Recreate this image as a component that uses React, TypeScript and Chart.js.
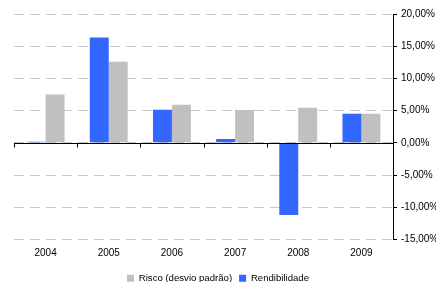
import React, { useEffect, useRef } from "react";
import { Chart, registerables } from "chart.js";

Chart.register(...registerables);

const categories = ["2004", "2005", "2006", "2007", "2008", "2009"];
const rendibilidade = [0.15, 16.35, 5.15, 0.6, -11.2, 4.5];
const risco = [7.5, 12.6, 5.9, 5.1, 5.45, 4.5];
const yTicks = [-15, -10, -5, 0, 5, 10, 15, 20];

const FONT = "'Liberation Sans', Arial, sans-serif";
const fmt = (v: number) => v.toFixed(2).replace(".", ",") + "%";

const zeroAxisPlugin = {
  id: "zeroAxis",
  afterLayout(chart: any) {
    const lg = chart.legend;
    if (lg) {
      lg.left -= 7;
      lg.right -= 7;
      lg.top -= 1;
      lg.bottom -= 1;
    }
  },
  afterDatasetsDraw(chart: any) {
    const { ctx, chartArea, scales } = chart;
    const x = scales.x;
    const y = scales.y;
    const y0 = Math.round(y.getPixelForValue(0)) + 0.5;
    ctx.save();
    ctx.strokeStyle = "#000";
    ctx.lineWidth = 1;
    ctx.beginPath();
    ctx.moveTo(chartArea.left, y0);
    ctx.lineTo(chartArea.right, y0);
    const n = categories.length;
    for (let i = 0; i <= n; i++) {
      const xp = Math.round(x.left + (i * x.width) / n) + 0.5;
      ctx.moveTo(xp, y0);
      ctx.lineTo(xp, y0 + 4);
    }
    ctx.stroke();
    ctx.restore();
  },
};

export default function App() {
  const ref = useRef<HTMLCanvasElement>(null);
  useEffect(() => {
    if (!ref.current) return;
    const chart = new Chart(ref.current, {
      type: "bar",
      data: {
        labels: categories,
        datasets: [
          {
            label: "Rendibilidade",
            data: rendibilidade,
            backgroundColor: "#3366FF",
            borderWidth: 0,
          },
          {
            label: "Risco (desvio padrão)",
            data: risco,
            backgroundColor: "#C0C0C0",
            borderWidth: 0,
          },
        ],
      },
      options: {
        animation: false,
        responsive: false,
        maintainAspectRatio: false,
        layout: { padding: { left: 14, top: 14, right: 0, bottom: -12 } },
        font: { family: FONT, size: 10 },
        datasets: { bar: { categoryPercentage: 0.6, barPercentage: 1 } },
        plugins: {
          legend: {
            position: "bottom",
            reverse: true,
            labels: {
              boxWidth: 7,
              boxHeight: 7,
              padding: 7,
              color: "#000",
              font: { family: FONT, size: 9.6 },
            },
          },
          tooltip: { enabled: false },
        },
        scales: {
          x: {
            position: "bottom",
            grid: { display: false, drawTicks: false },
            border: { display: false },
            ticks: {
              color: "#000",
              padding: 8,
              font: { family: FONT, size: 10 },
            },
          },
          y: {
            position: "right",
            min: yTicks[0],
            max: yTicks[yTicks.length - 1],
            afterBuildTicks: (scale: any) => {
              scale.ticks = yTicks.map((v) => ({ value: v }));
            },
            afterFit: (scale: any) => {
              scale.width = 43;
            },
            grid: {
              color: "#C8C8C8",
              tickColor: "#000",
              tickLength: 4,
              lineWidth: 1,
            },
            border: { display: true, color: "#000", width: 1, dash: [10, 6] },
            ticks: {
              color: "#000",
              padding: 4,
              callback: (v: any) => fmt(Number(v)),
              font: { family: FONT, size: 10 },
            },
          },
        },
      },
      plugins: [zeroAxisPlugin],
    } as any);
    return () => chart.destroy();
  }, []);
  return (
    <div style={{ position: "fixed", left: 0, top: 0, width: 436, height: 282, background: "#fff" }}>
      <canvas ref={ref} width={436} height={282} style={{ width: 436, height: 282 }} />
    </div>
  );
}
